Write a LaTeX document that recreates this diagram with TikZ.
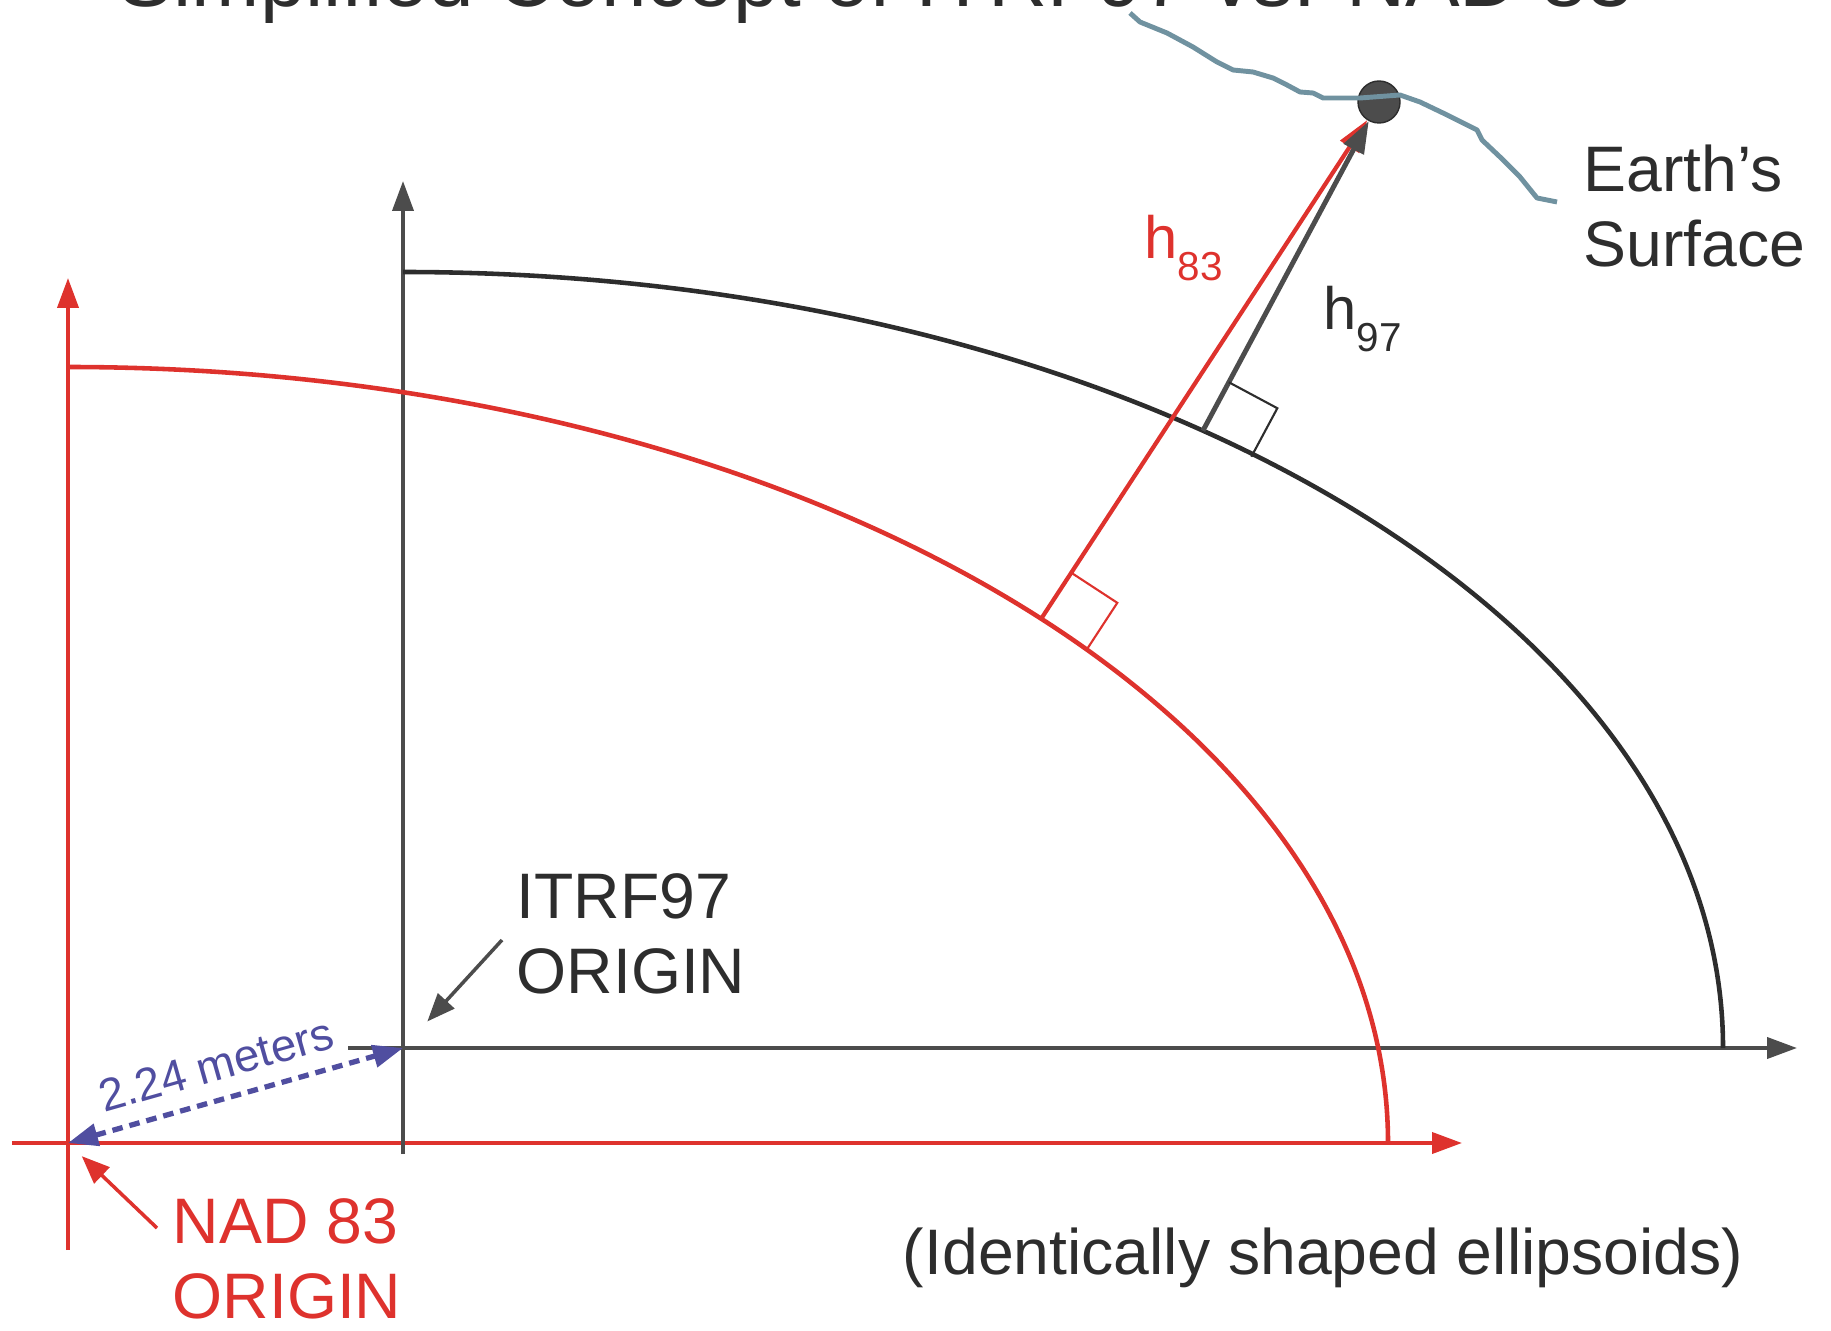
\documentclass[tikz,border=0pt]{standalone}
\usepackage{fontspec}
\setmainfont{Liberation Sans}
\usepackage{xcolor}
\usepackage{tikz}
\usetikzlibrary{arrows.meta, calc}

\definecolor{nadrouge}{RGB}{222,50,45}
\definecolor{itrfgris}{RGB}{45,45,45}
\definecolor{distbleu}{RGB}{80,78,160}
\definecolor{solbleu}{RGB}{112,146,160}

\newcommand{\hind}[1]{h\raisebox{-6pt}{\fontsize{11.5}{13}\selectfont #1}}

\begin{document}
\begin{tikzpicture}[
    grand/.style={font=\fontsize{18.3}{21.2}\selectfont, align=left, inner sep=0pt},
    axe/.style={line width=1.1pt, -{Triangle[length=3mm, width=2.1mm]}},
    ellip/.style={line width=1.3pt},
    renvoi/.style={line width=1pt, -{Triangle[length=2.8mm, width=2.2mm]}},
    equerre/.style={line width=0.6pt}
  ]
    \path[use as bounding box, clip] (0,0) rectangle (18.31,13.30);
    % Titre (coupe en haut)
    \node[anchor=base, text=itrfgris, font=\fontsize{23.3}{26}\selectfont, inner sep=0pt] (titre) at (8.76,13.23) {Simplified Concept of ITRF97 vs. NAD 83};
    % Origines
    \coordinate (N) at (0.68,1.87);
    \coordinate (I) at (4.03,2.82);
    % Axes NAD 83
    \draw[axe, nadrouge] ($(N)+(0,-1.07)$) -- ($(N)+(0,8.65)$);
    \draw[axe, nadrouge] ($(N)+(-0.56,0)$) -- ($(N)+(13.94,0)$);
    % Axes ITRF97
    \draw[axe, itrfgris!85] ($(I)+(0,-1.06)$) -- ($(I)+(0,8.67)$);
    \draw[axe, itrfgris!85] ($(I)+(-0.55,0)$) -- ($(I)+(13.94,0)$);
    % Ellipsoides
    \draw[ellip, nadrouge] ($(N)+(0,7.76)$) arc[start angle=90, end angle=0, x radius=13.2, y radius=7.76];
    \draw[ellip, itrfgris] ($(I)+(0,7.76)$) arc[start angle=90, end angle=0, x radius=13.2, y radius=7.76];
    % Point et surface
    \node[circle, fill=itrfgris!85, draw=itrfgris, minimum size=4.2mm, inner sep=0pt] (pt) at (13.79,12.28) {};
    \draw[solbleu, line width=1.4pt, line join=round] (11.30,13.17) -- (11.40,13.08) -- (11.67,12.97) -- (11.93,12.83)
      -- (12.17,12.68) -- (12.33,12.60) -- (12.53,12.58) -- (12.73,12.52) -- (12.87,12.45) -- (13.00,12.38)
      -- (13.13,12.37) -- (13.23,12.32) -- (13.60,12.32) -- (14.00,12.35) -- (14.20,12.28) -- (14.43,12.17)
      -- (14.67,12.05) -- (14.77,12.00) -- (14.82,11.90) -- (15.00,11.73) -- (15.20,11.53) -- (15.37,11.32)
      -- (15.57,11.28);
    % Hauteurs
    \coordinate (f83) at ($(N)+({13.2*cos(42.5)},{7.76*sin(42.5)})$);
    \coordinate (f97) at ($(I)+({13.2*cos(52.7)},{7.76*sin(52.7)})$);
    \draw[line width=1.2pt, nadrouge, -{Triangle[length=3.2mm, width=2.2mm]}] (f83) -- (pt);
    \draw[line width=1.4pt, itrfgris!85, -{Triangle[length=3.2mm, width=2.2mm]}] (f97) -- (pt);
    % Equerres
    \foreach \f/\c in {f83/nadrouge, f97/itrfgris} {
      \coordinate (a) at ($(\f)!0.55cm!(pt)$);
      \coordinate (b) at ($(\f)!0.55cm!-90:(pt)$);
      \draw[equerre, \c] (a) -- ($(a)+(b)-(\f)$) -- (b);
    }
    % Etiquettes
    \node[anchor=base west, text=nadrouge, inner sep=0pt, font=\fontsize{17}{20}\selectfont] (h83) at (11.44,10.71) {\hind{83}};
    \node[anchor=base west, text=itrfgris, inner sep=0pt, font=\fontsize{17}{20}\selectfont] (h97) at (13.23,10.00) {\hind{97}};
    \node[grand, anchor=west, text=itrfgris] (terre) at (15.83,11.24) {Earth’s\\Surface};
    \node[grand, anchor=west, text=itrfgris] (itrf) at (5.16,3.96) {ITRF97\\ORIGIN};
    \node[grand, anchor=west, text=nadrouge] (nad) at (1.72,0.71) {NAD 83\\ORIGIN};
    \node[grand, anchor=center, text=itrfgris] (forme) at (13.23,0.72) {(Identically shaped ellipsoids)};
    % Renvois
    \draw[renvoi, itrfgris!85, shorten >=0.36cm] ($(itrf.west)+(-0.14,-0.06)$) -- (I);
    \draw[renvoi, nadrouge, shorten >=0.19cm] ($(nad.west)+(-0.15,0.31)$) -- (N);
    % Decalage
    \draw[distbleu, line width=1.5pt, dash pattern=on 3pt off 2pt, {Triangle[length=3mm, width=2.2mm]}-{Triangle[length=3mm, width=2.2mm]}]
      (N) -- (I) node[pos=0.47, sloped, above=1.6mm, inner sep=0pt, font=\fontsize{13}{15}\selectfont] (dist) {2.24 meters};
\end{tikzpicture}
\end{document}
